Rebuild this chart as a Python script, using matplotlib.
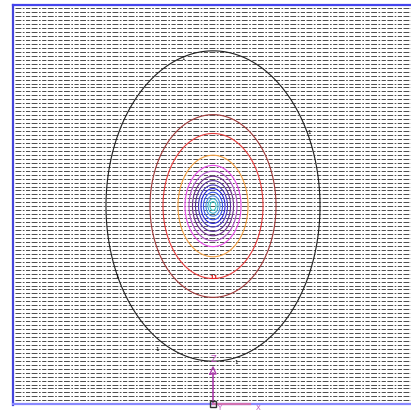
import numpy as np
import matplotlib
matplotlib.use("Agg")
import matplotlib.pyplot as plt

# contour rings (horizontal half-width in px), outer -> inner, with colours
ring_radii = [107, 63, 50, 35, 28, 24, 20.5, 17.5, 14.5, 12, 9.5, 7, 5, 3]
ring_colors = ['#202020', '#a03838', '#e83a3a', '#f5a040', '#e848e8', '#b050c8',
               '#703090', '#583098', '#4838c0', '#2828e0', '#3858f0', '#4a88e8',
               '#40b0d0', '#38c8c8']
ring_labels = ['1', '11']
label_pos = [(183, 58), (117, 276), (309, 132), (157, 349), (236, 362)]
center = (213, 206)
aspect = 1.45

fig = plt.figure(figsize=(4.11, 4.11), dpi=100)
ax = fig.add_axes([0, 0, 1, 1])
ax.set_xlim(0, 411)
ax.set_ylim(411, 0)
ax.axis('off')

# dashed horizontal hatching
ys = np.arange(8.3, 402, 3.96)
ax.hlines(ys, 15, 411, colors='#303030', linewidth=0.6,
          linestyles=(0, (7, 1.8, 2, 1.8, 5, 1.8)), zorder=1)

# frame lines
ax.plot([13, 13], [5, 405], color='#4444dd', lw=1.6, zorder=3)
ax.plot([13, 411], [5, 5], color='#4444ee', lw=1.6, zorder=3)
ax.plot([13, 411], [404, 404], color='#8888ff', lw=1.6, zorder=3)

# contours
xx = np.linspace(0, 411, 822)
yy = np.linspace(0, 411, 822)
X, Y = np.meshgrid(xx, yy)
R = np.sqrt((X - center[0]) ** 2 + ((Y - center[1]) / aspect) ** 2)
levels = sorted(ring_radii)
cols = [ring_colors[ring_radii.index(l)] for l in levels]
ax.contour(X, Y, R, levels=levels, colors=cols, linewidths=0.8, zorder=2)

for (lx, ly) in label_pos:
    ax.text(lx, ly, ring_labels[0], fontsize=4, color='black', ha='center',
            va='center', zorder=4)
ax.text(214, 277, ring_labels[1], fontsize=4.5, color='#e02020', ha='center',
        va='center', fontweight='bold', zorder=4)

# axis triad
ox, oy = 213, 404
ax.plot([ox, ox], [oy, 373], color='#b040b0', lw=1.2, zorder=5)
ax.plot([ox - 3, ox, ox + 3, ox - 3], [374, 367, 374, 374], color='#b040b0',
        lw=1.0, zorder=5)
ax.text(ox, 359, 'Z', fontsize=6, color='#c050c0', ha='center', va='center',
        zorder=5)
ax.plot([ox, 250], [oy, oy], color='#d070b0', lw=1.6, zorder=5)
ax.text(219, 408, 'Y', fontsize=5, color='#c050c0', ha='center', va='center',
        zorder=5)
ax.text(258, 408, 'X', fontsize=5, color='#c050c0', ha='center', va='center',
        zorder=5)
ax.plot([ox], [oy], marker='s', markersize=4, markerfacecolor='none',
        markeredgecolor='#303030', markeredgewidth=1.0, zorder=6)

fig.savefig('out.png', dpi=100)
